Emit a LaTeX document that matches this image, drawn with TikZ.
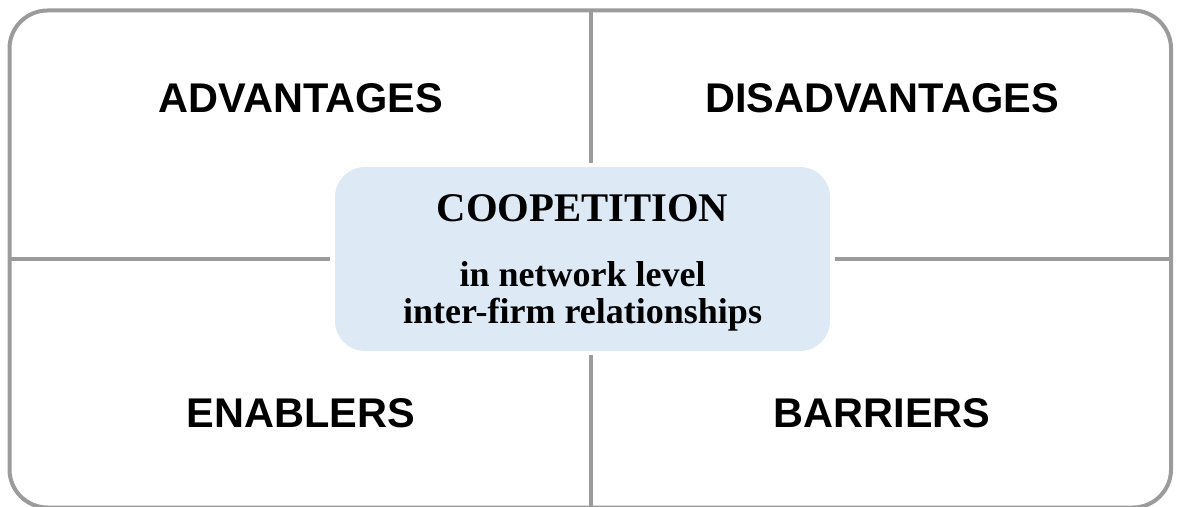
\documentclass[tikz,border=0pt]{standalone}
\usepackage{fontspec}
\setmainfont{Liberation Serif}
\setsansfont{Liberation Sans}
\definecolor{framegray}{RGB}{155,155,155}
\definecolor{coreblue}{RGB}{221,233,245}
\begin{document}
\begin{tikzpicture}[x=1pt,y=1pt,
  frame/.style={draw=framegray,line width=4pt,rounded corners=38pt},
  divider/.style={draw=framegray,line width=4pt},
  corebox/.style={fill=coreblue,draw=none,rounded corners=30pt,minimum width=495pt,minimum height=184pt,inner sep=0pt},
  quadlabel/.style={font=\sffamily\bfseries\fontsize{41.5}{48}\selectfont,anchor=base,inner sep=0pt},
  coretitle/.style={font=\rmfamily\bfseries\fontsize{40.7}{48}\selectfont,anchor=base,inner sep=0pt},
  coreline/.style={font=\rmfamily\bfseries\fontsize{36}{42}\selectfont,anchor=base,inner sep=0pt}]
\useasboundingbox (0,0) rectangle (1177,506);
% outer frame
\draw[frame] (9.5,-1.5) rectangle (1171,495.5);
% divider end points
\coordinate (topmid) at (591,495.5);
\coordinate (botmid) at (591,0);
\coordinate (leftmid) at (9.5,247);
\coordinate (rightmid) at (1171,247);
% center box
\node[corebox] (core) at (582.5,247) {};
\draw[divider] (topmid) -- ([yshift=4pt]core.north -| topmid);
\draw[divider] ([yshift=-4pt]core.south -| botmid) -- (botmid);
\draw[divider] (leftmid) -- ([xshift=-5pt]core.west);
\draw[divider] ([xshift=5pt]core.east) -- (rightmid);
% center texts
\node[coretitle] (title) at (582.5,284.3) {COOPETITION};
\node[coreline] (line1) at (582.5,219.3) {in network level};
\node[coreline] (line2) at (582.5,182) {inter-firm relationships};
% quadrant labels
\node[quadlabel] (adv) at (301,393) {ADVANTAGES};
\node[quadlabel] (dis) at (882,393) {DISADVANTAGES};
\node[quadlabel] (ena) at (301,79) {ENABLERS};
\node[quadlabel] (bar) at (882,79) {BARRIERS};
\end{tikzpicture}
\end{document}
